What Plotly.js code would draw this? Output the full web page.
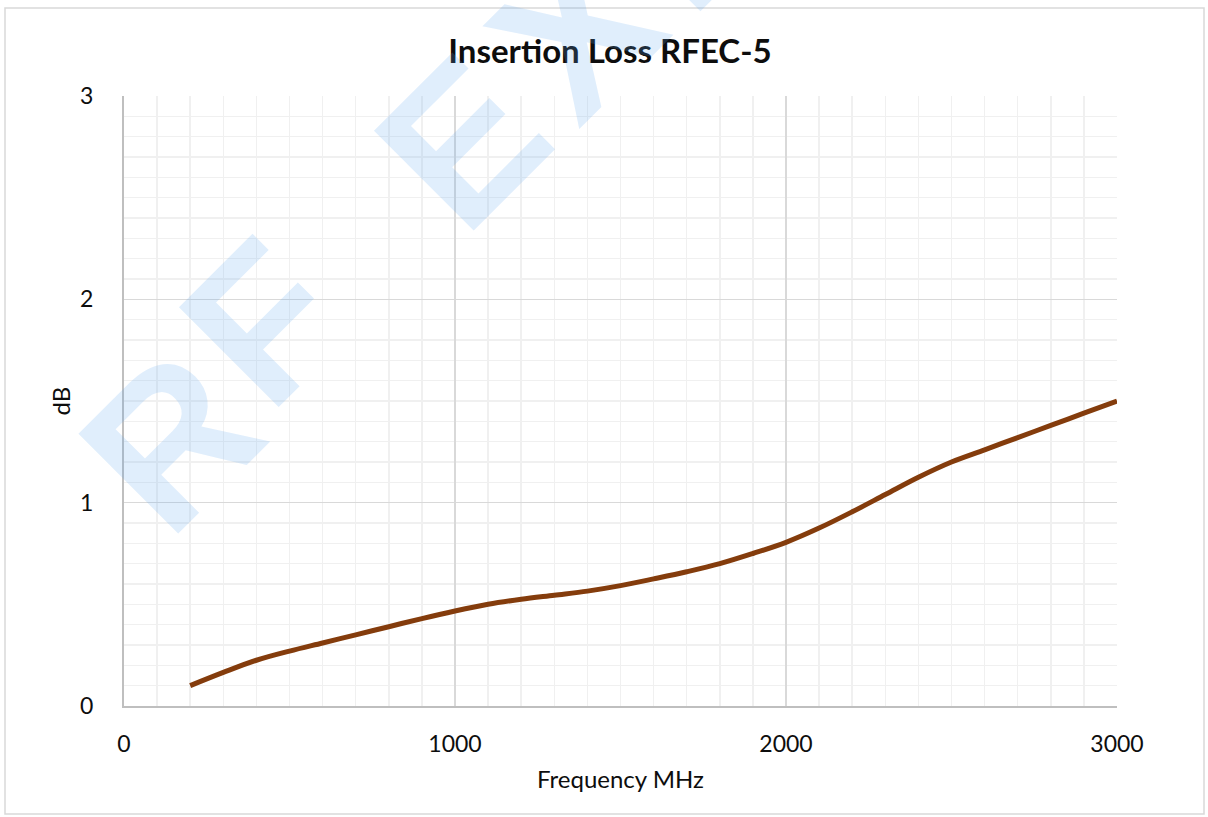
<!DOCTYPE html>
<html>
<head>
<meta charset="utf-8">
<script src="https://cdn.plot.ly/plotly-3.0.1.min.js"></script>
<style>
  html, body { margin: 0; padding: 0; background: #ffffff; }
  #chart { width: 1208px; height: 817px; }
</style>
</head>
<body>
<div id="chart"></div>
<script>
// Data
const frequencyMHz = [200, 300, 400, 500, 600, 700, 800, 900, 1000, 1100, 1200, 1300, 1400, 1500,
                      1600, 1700, 1800, 1900, 2000, 2100, 2200, 2300, 2400, 2500, 2600, 2700, 2800, 2900, 3000];
const insertionLossDB = [0.10, 0.165, 0.225, 0.27, 0.31, 0.35, 0.39, 0.43, 0.467, 0.50, 0.525, 0.545, 0.565, 0.592,
                         0.625, 0.66, 0.70, 0.75, 0.805, 0.875, 0.955, 1.04, 1.125, 1.20, 1.26, 1.32, 1.38, 1.44, 1.50];
const xTickValues = [0, 1000, 2000, 3000];
const yTickValues = [0, 1, 2, 3];
const chartTitle = 'Insertion Loss RFEC-5';
const xTitle = 'Frequency MHz';
const yTitle = 'dB';
const watermarkLetters = ['R', 'F', 'E', 'X', 'P'];

const plotL = 124, plotR = 1117, plotT = 96, plotB = 706, W = 1208, H = 817;
const pw = plotR - plotL, ph = plotB - plotT;
const px = v => (v - plotL) / pw;
const py = v => (plotB - v) / ph;

// watermark letter centres (pixels)
const wmPos = [[170, 440], [262, 322], [462, 142], [576, 32], [688, -78]];
const watermark = watermarkLetters.map((ch, i) => ({
  text: ch, xref: 'paper', yref: 'paper',
  x: px(wmPos[i][0]), y: py(wmPos[i][1]),
  xanchor: 'center', yanchor: 'middle', showarrow: false, textangle: -45,
  font: { family: 'Liberation Sans, Arial, sans-serif', size: 205, color: 'rgba(100,170,240,0.2)', weight: 'bold' }
}));

const font = 'Lato, Carlito, Calibri, sans-serif';

const trace = {
  x: frequencyMHz, y: insertionLossDB, type: 'scatter', mode: 'lines',
  line: { color: '#843c0c', width: 5, shape: 'spline', smoothing: 1 },
  hoverinfo: 'x+y'
};

const layout = {
  width: W, height: H,
  margin: { l: plotL, r: W - plotR, t: plotT, b: H - plotB, pad: 0 },
  paper_bgcolor: '#ffffff', plot_bgcolor: '#ffffff',
  showlegend: false,
  font: { family: font, color: '#0d0d0d' },
  title: {
    text: '<b>' + chartTitle + '</b>',
    font: { family: font, size: 33, color: '#0d0d0d' },
    x: 610 / W, xref: 'container', xanchor: 'center',
    y: 1 - 51 / H, yref: 'container', yanchor: 'middle'
  },
  xaxis: {
    range: [0, 3000], tickvals: xTickValues, ticktext: xTickValues.map(String),
    showgrid: true, gridcolor: '#d9d9d9', gridwidth: 1.5,
    minor: { dtick: 100, tick0: 0, showgrid: true, gridcolor: '#f0f0f0', gridwidth: 1.5, ticks: '' },
    showline: true, linecolor: '#bfbfbf', linewidth: 2,
    zeroline: false, ticks: '', ticklabelstandoff: 16,
    tickfont: { family: font, size: 23, color: '#0d0d0d' },
    title: { text: xTitle, font: { family: font, size: 24, color: '#0d0d0d' }, standoff: 16 },
    fixedrange: true
  },
  yaxis: {
    range: [0, 3], tickvals: yTickValues, ticktext: yTickValues.map(String),
    showgrid: true, gridcolor: '#d9d9d9', gridwidth: 1.5,
    minor: { dtick: 0.1, tick0: 0, showgrid: true, gridcolor: '#f0f0f0', gridwidth: 1.5, ticks: '' },
    showline: true, linecolor: '#bfbfbf', linewidth: 2,
    zeroline: false, ticks: '', ticklabelstandoff: 24,
    tickfont: { family: font, size: 23, color: '#0d0d0d' },
    title: { text: yTitle, font: { family: font, size: 24, color: '#0d0d0d' }, standoff: 3 },
    fixedrange: true
  },
  shapes: [{
    type: 'rect', xref: 'paper', yref: 'paper', layer: 'below',
    x0: px(5), x1: px(1204), y0: py(814), y1: py(8),
    line: { color: '#d9d9d9', width: 1.5 }, fillcolor: 'rgba(0,0,0,0)'
  }],
  annotations: watermark
};

Plotly.newPlot('chart', [trace], layout, { displayModeBar: false, staticPlot: true });
</script>
</body>
</html>
